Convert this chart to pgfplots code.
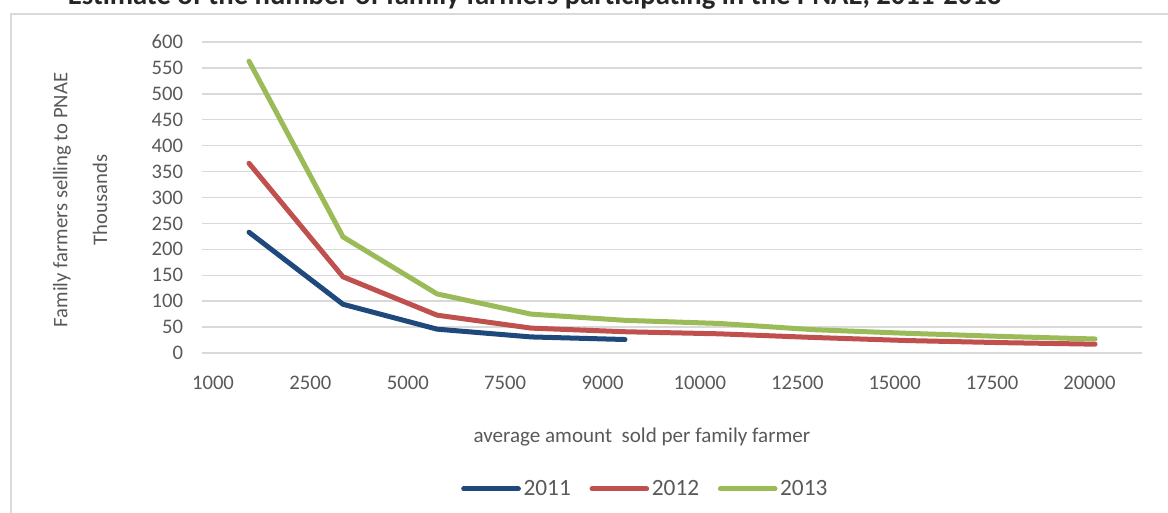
\documentclass[border=0pt]{standalone}
\usepackage{pgfplots}
\pgfplotsset{compat=1.18}
\usepackage{fontspec}
\setmainfont{Carlito}
\definecolor{c2011}{RGB}{31,73,125}
\definecolor{c2012}{RGB}{192,80,77}
\definecolor{c2013}{RGB}{155,187,89}
\definecolor{txt}{RGB}{89,89,89}
\definecolor{gridc}{RGB}{217,217,217}
\begin{document}
\begin{tikzpicture}
\useasboundingbox (0,0) rectangle (876pt,384.75pt);
% outer frame (only left and top visible)
\draw[gridc, line width=1.5pt] (8.25pt,-10pt) -- (8.25pt,374.25pt) -- (900pt,374.25pt);
% title, cut off at the top as in the original
\node[anchor=base, font=\bfseries\fontsize{21.5}{25}\selectfont, text=black!85] at (401pt,381pt)
  {Estimate of the number of family farmers participating in the PNAE, 2011-2013};
\begin{axis}[
  at={(151.5pt,120pt)}, anchor=south west,
  scale only axis=true,
  width=705pt, height=233.25pt,
  xmin=-0.5, xmax=9.5, ymin=0, ymax=600,
  axis line style={draw=none},
  tick style={draw=none},
  ytick={0,50,...,600},
  xtick={-0.383,0.653,1.689,2.725,3.761,4.797,5.833,6.869,7.905,8.941},
  xticklabels={1000,2500,5000,7500,9000,10000,12500,15000,17500,20000},
  ymajorgrids=true,
  grid style={gridc, line width=1.1pt},
  ticklabel style={font=\fontsize{15.5}{18}\selectfont, text=txt, inner sep=0pt},
  /pgf/number format/assume math mode=true,
  yticklabel shift=14pt,
  xticklabel shift=17pt,
  xlabel={average amount~~sold per family farmer},
  xlabel style={at={(axis description cs:0.468,-0.27)}, anchor=center, font=\fontsize{15.8}{18}\selectfont, text=txt},
  ylabel={Family farmers selling to PNAE},
  ylabel style={at={(axis description cs:-0.149,0.492)}, anchor=center, rotate=0, font=\fontsize{15.5}{18}\selectfont, text=txt},
  legend columns=3,
  legend style={at={(0.472,-0.437)}, anchor=center, draw=none, fill=none,
    font=\fontsize{17.5}{20}\selectfont, text=txt,
    /tikz/every even column/.append style={column sep=12pt}},
  legend image code/.code={\draw[#1] (0pt,0pt) -- (41pt,0pt);},
  every axis plot/.append style={line width=3.75pt, line join=round, line cap=round},
  clip=false,
]
\addplot[c2011] coordinates {(0,233) (1,94) (2,46) (3,31) (4,26)};
\addplot[c2012] coordinates {(0,366) (1,147) (2,73) (3,48) (4,41) (5,37) (6,30) (7,24) (8,20) (9,17)};
\addplot[c2013] coordinates {(0,563) (1,224) (2,114) (3,75) (4,63) (5,57) (6,45) (7,38) (8,32) (9,27)};
\legend{2011,2012,2013}
\node[rotate=90, anchor=center, font=\fontsize{15.5}{18}\selectfont, text=txt] at (rel axis cs:-0.1085,0.492) {Thousands};
\end{axis}
\end{tikzpicture}
\end{document}
